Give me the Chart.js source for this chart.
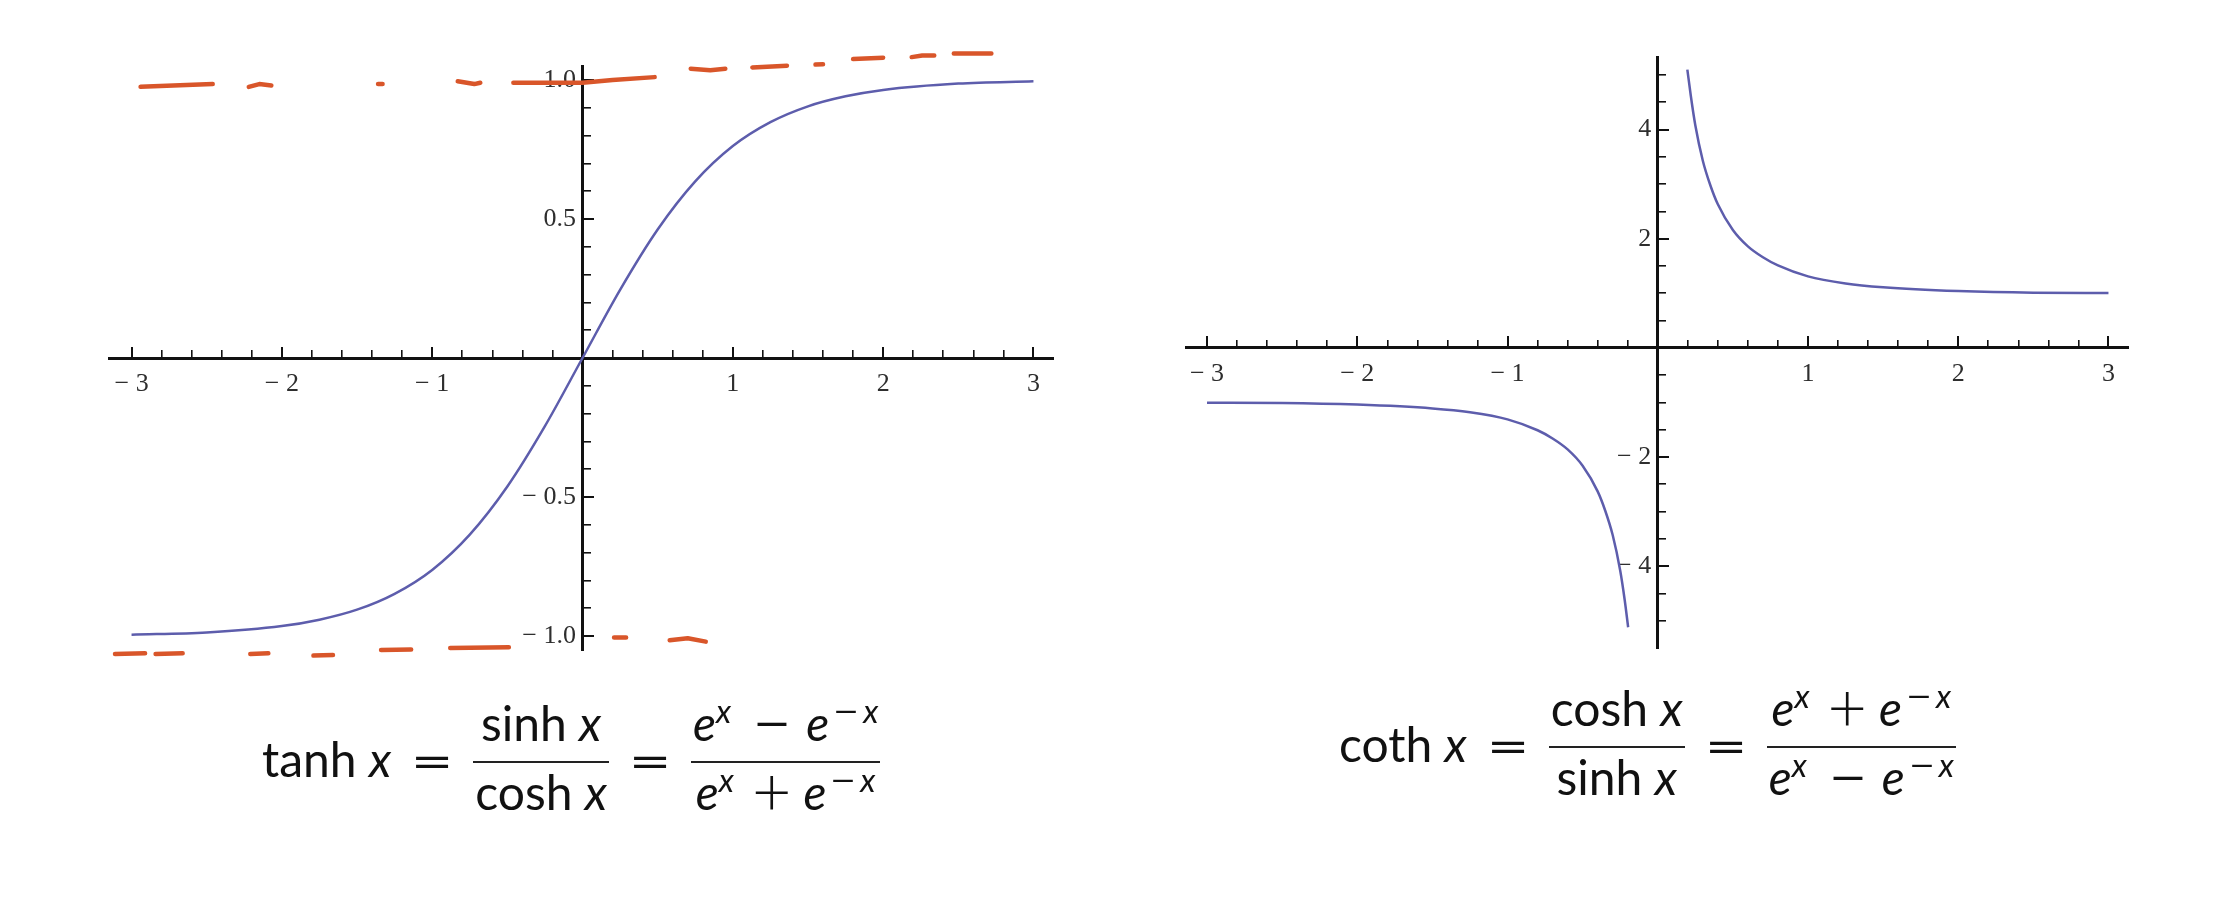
<!DOCTYPE html>
<html>
<head>
<meta charset="utf-8">
<script src="https://cdn.jsdelivr.net/npm/chart.js"></script>
<style>
  html, body { margin: 0; padding: 0; background: #fff; }
  body { width: 2226px; height: 918px; position: relative; overflow: hidden; }
  canvas { position: absolute; }
  #tanhChart { left: 60px; top: 20px; }
  #cothChart { left: 1150px; top: 20px; }
  .eq { position: absolute; display: flex; align-items: center; font-family: Lato, "Open Sans", sans-serif; font-size: 48px; color: #111; white-space: nowrap; }
  .lhs { line-height: 1; padding-bottom: 7px; }
  .op { line-height: 1; width: 34px; text-align: center; margin: 0 24px; padding-bottom: 3px; transform: scaleX(1.55); }
  .frac { display: flex; flex-direction: column; }
  .num { line-height: 1; padding: 0 2px 14px; text-align: center; }
  .bar { height: 2px; background: #222; }
  .den { line-height: 1; padding: 5px 2px 9px; text-align: center; }
  .bin { display: inline-block; width: 34px; text-align: center; line-height: 0; margin: 0 17px 0 24px; transform: scaleX(1.4); }
  .plus { font-size: 68px; font-weight: 300; line-height: 0; vertical-align: -0.09em; margin: 0 12px 0 18px; }
  .sup { font-size: 0.68em; position: relative; top: -0.55em; line-height: 0; }
  .sup .m { display: inline-block; width: 22px; text-align: center; margin: 0 6px 0 6px; transform: scaleX(1.4); }
</style>
</head>
<body>
<canvas id="tanhChart" width="1040" height="680"></canvas>
<canvas id="cothChart" width="1030" height="680"></canvas>

<div class="eq" style="left:262px; top:699px;">
  <span class="lhs">tanh <i>x</i></span>
  <span class="op">=</span>
  <span class="frac"><span class="num"><span>sinh <i>x</i></span></span><span class="bar"></span><span class="den">cosh <i>x</i></span></span>
  <span class="op">=</span>
  <span class="frac"><span class="num"><i>e</i><span class="sup"><i>x</i></span><span class="bin">−</span><i>e</i><span class="sup"><span class="m">−</span><i>x</i></span></span><span class="bar"></span><span class="den"><i>e</i><span class="sup"><i>x</i></span><span class="plus">+</span><i>e</i><span class="sup"><span class="m">−</span><i>x</i></span></span></span>
</div>

<div class="eq" style="left:1339px; top:684px;">
  <span class="lhs">coth <i>x</i></span>
  <span class="op">=</span>
  <span class="frac"><span class="num">cosh <i>x</i></span><span class="bar"></span><span class="den">sinh <i>x</i></span></span>
  <span class="op">=</span>
  <span class="frac"><span class="num"><i>e</i><span class="sup"><i>x</i></span><span class="plus">+</span><i>e</i><span class="sup"><span class="m">−</span><i>x</i></span></span><span class="bar"></span><span class="den"><i>e</i><span class="sup"><i>x</i></span><span class="bin">−</span><i>e</i><span class="sup"><span class="m">−</span><i>x</i></span></span></span>
</div>

<script>
// tanh curve
const tanhX = [-3, -2.5, -2, -1.75, -1.5, -1.25, -1, -0.75, -0.5, -0.25, 0, 0.25, 0.5, 0.75, 1, 1.25, 1.5, 1.75, 2, 2.5, 3];
const tanhY = [-0.995, -0.987, -0.964, -0.941, -0.905, -0.848, -0.762, -0.635, -0.462, -0.245, 0, 0.245, 0.462, 0.635, 0.762, 0.848, 0.905, 0.941, 0.964, 0.987, 0.995];

// hand drawn orange asymptote marks (null = gap between strokes)
const upperMarkX = [-2.94, -2.46, -2.4, -2.22, -2.15, -2.07, -1.7, -1.36, -1.33, -1.1, -0.83, -0.72, -0.68, -0.6, -0.46, 0, 0.2, 0.48, 0.6, 0.72, 0.85, 0.95, 1.05, 1.13, 1.36, 1.45, 1.55, 1.6, 1.7, 1.8, 2.0, 2.1, 2.19, 2.26, 2.34, 2.4, 2.47, 2.72];
const upperMarkY = [0.975, 0.985, null, 0.975, 0.985, 0.98, null, 0.985, 0.985, null, 0.995, 0.985, 0.99, null, 0.99, 0.99, 1.0, 1.01, null, 1.04, 1.035, 1.04, null, 1.045, 1.051, null, 1.055, 1.056, null, 1.075, 1.08, null, 1.082, 1.088, 1.088, null, 1.095, 1.095];
const lowerMarkX = [-3.11, -2.91, -2.88, -2.84, -2.66, -2.4, -2.21, -2.09, -1.9, -1.79, -1.66, -1.5, -1.34, -1.14, -1.0, -0.88, -0.49, 0, 0.21, 0.29, 0.4, 0.58, 0.7, 0.82];
const lowerMarkY = [-1.064, -1.062, null, -1.064, -1.062, null, -1.064, -1.062, null, -1.07, -1.068, null, -1.05, -1.048, null, -1.043, -1.04, null, -1.005, -1.005, null, -1.015, -1.008, -1.02];

// coth curve
const cothRightX = [0.197, 0.22, 0.25, 0.3, 0.35, 0.4, 0.5, 0.6, 0.7, 0.8, 1, 1.25, 1.5, 2, 2.5, 3];
const cothRightY = [5.1, 4.62, 4.08, 3.43, 2.98, 2.63, 2.16, 1.86, 1.66, 1.51, 1.31, 1.18, 1.11, 1.04, 1.01, 1.005];
const cothLeftX = [-3, -2.5, -2, -1.5, -1.25, -1, -0.8, -0.7, -0.6, -0.5, -0.4, -0.35, -0.3, -0.25, -0.22, -0.197];
const cothLeftY = [-1.005, -1.01, -1.04, -1.11, -1.18, -1.31, -1.51, -1.66, -1.86, -2.16, -2.63, -2.98, -3.43, -4.08, -4.62, -5.12];

// ticks
const xMajor = [-3, -2, -1, 1, 2, 3];
const xMajorLabels = ["\u2212 3", "\u2212 2", "\u2212 1", "1", "2", "3"];
const xMinor = [-2.8, -2.6, -2.4, -2.2, -1.8, -1.6, -1.4, -1.2, -0.8, -0.6, -0.4, -0.2,
                0.2, 0.4, 0.6, 0.8, 1.2, 1.4, 1.6, 1.8, 2.2, 2.4, 2.6, 2.8];
const tanhYMajor = [-1, -0.5, 0.5, 1];
const tanhYLabels = ["\u2212 1.0", "\u2212 0.5", "0.5", "1.0"];
const tanhYMinor = [-0.9, -0.8, -0.7, -0.6, -0.4, -0.3, -0.2, -0.1, 0.1, 0.2, 0.3, 0.4, 0.6, 0.7, 0.8, 0.9];
const cothYMajor = [-4, -2, 2, 4];
const cothYLabels = ["\u2212 4", "\u2212 2", "2", "4"];
const cothYMinor = [-5, -4.5, -3.5, -3, -2.5, -1.5, -1, -0.5, 0.5, 1, 1.5, 2.5, 3, 3.5, 4.5, 5];

const zip = (xs, ys) => xs.map((x, i) => ({ x: x, y: ys[i] }));

const INK = "#111";
const LABEL = "#2e2e2e";
const BLUE = "#5d5dac";
const ORANGE = "#d9562a";

function axisScales(isX, min, max, majors, labels, minors) {
  const axis = isX ? "x" : "y";
  const pos = isX ? { y: 0 } : { x: 0 };
  const major = {
    type: "linear", axis: axis, min: min, max: max, position: pos,
    afterBuildTicks: (s) => { s.ticks = majors.map((v) => ({ value: v })); },
    ticks: {
      // y labels sit right against the axis, so keep a small gap after them
      callback: (v, i) => (isX ? labels[i] : labels[i] + " "),
      autoSkip: false, maxRotation: 0,
      font: { family: "Liberation Serif", size: 26 },
      color: LABEL,
      padding: isX ? 24 : 20,
    },
    grid: { display: true, drawOnChartArea: false, drawTicks: true, tickLength: -13, tickWidth: 2, tickColor: INK, lineWidth: 2, color: INK },
    border: { display: true, color: INK, width: 3 },
  };
  const minor = {
    type: "linear", axis: axis, min: min, max: max, position: pos,
    afterBuildTicks: (s) => { s.ticks = minors.map((v) => ({ value: v })); },
    ticks: { display: false },
    grid: { display: true, drawOnChartArea: false, drawTicks: true, tickLength: -8, tickWidth: 1.6, tickColor: INK, lineWidth: 1.6, color: INK },
    border: { display: false },
  };
  return [major, minor];
}

function curve(points) {
  return {
    data: points, borderColor: BLUE, borderWidth: 2.5, pointRadius: 0,
    fill: false, cubicInterpolationMode: "monotone",
  };
}

function mark(points) {
  return {
    data: points, borderColor: ORANGE, borderWidth: 4.5, pointRadius: 0,
    fill: false, tension: 0, spanGaps: false, clip: false,
    borderCapStyle: "round", borderJoinStyle: "round",
  };
}

function makeChart(id, datasets, xr, yr, yMajor, yLabels, yMinor, pad) {
  const [x, xMinorScale] = axisScales(true, xr[0], xr[1], xMajor, xMajorLabels, xMinor);
  const [y, yMinorScale] = axisScales(false, yr[0], yr[1], yMajor, yLabels, yMinor);
  return new Chart(document.getElementById(id), {
    type: "line",
    data: { datasets: datasets },
    options: {
      responsive: false,
      animation: false,
      events: [],
      devicePixelRatio: 1,
      layout: { padding: pad },
      plugins: { legend: { display: false }, tooltip: { enabled: false } },
      scales: { x: x, xMinor: xMinorScale, y: y, yMinor: yMinorScale },
    },
  });
}

makeChart("tanhChart",
  [mark(zip(upperMarkX, upperMarkY)), mark(zip(lowerMarkX, lowerMarkY)), curve(zip(tanhX, tanhY))],
  [-3.15, 3.13], [-1.05, 1.05], tanhYMajor, tanhYLabels, tanhYMinor,
  { left: 49, right: 47, top: 46, bottom: 50 });

makeChart("cothChart",
  [curve(zip(cothLeftX, cothLeftY)), curve(zip(cothRightX, cothRightY))],
  [-3.14, 3.13], [-5.5, 5.33], cothYMajor, cothYLabels, cothYMinor,
  { left: 36, right: 52, top: 37, bottom: 52 });
</script>
</body>
</html>
